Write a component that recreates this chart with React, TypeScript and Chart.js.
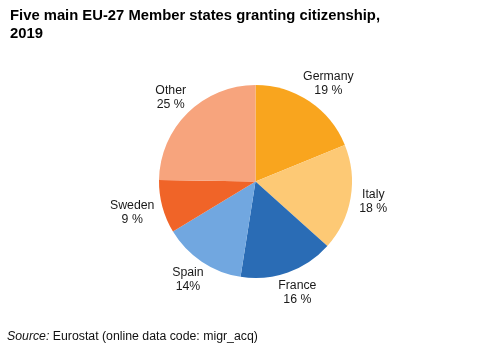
import React, { useEffect, useRef } from "react";
import { Chart, registerables } from "chart.js";

Chart.register(...registerables);

const categories = ["Germany", "Italy", "France", "Spain", "Sweden", "Other"];
const shares = [19, 18, 16, 14, 9, 25];
const shareLabels = ["19 %", "18 %", "16 %", "14%", "9 %", "25 %"];
const colors = ["#F9A51E", "#FDC975", "#2A6CB5", "#71A7E0", "#F06428", "#F7A47D"];
const titleLines = ["Five main EU-27 Member states granting citizenship,", "2019"];

const FONT = "'Liberation Sans', Arial, sans-serif";

const textPlugin = {
  id: "textPlugin",
  afterDraw(chart: any) {
    const ctx = chart.ctx as CanvasRenderingContext2D;
    ctx.save();
    // Title
    ctx.fillStyle = "#000";
    ctx.font = `bold 14.8px ${FONT}`;
    ctx.textAlign = "left";
    ctx.textBaseline = "alphabetic";
    ctx.fillText(titleLines[0], 10, 20);
    ctx.fillText(titleLines[1], 10, 37.5);

    // Source
    ctx.font = `italic 12.3px ${FONT}`;
    const src = "Source:";
    ctx.fillStyle = "#111";
    ctx.fillText(src, 7, 340);
    const w = ctx.measureText(src).width;
    ctx.font = `12.3px ${FONT}`;
    ctx.fillText(" Eurostat (online data code: migr_acq)", 7 + w, 340);

    // Slice labels
    const meta = chart.getDatasetMeta(0);
    ctx.font = `12.3px ${FONT}`;
    ctx.fillStyle = "#1a1a1a";
    ctx.textAlign = "center";
    ctx.textBaseline = "middle";
    const lineH = 14;
    meta.data.forEach((arc: any, i: number) => {
      const p = arc.getProps(["x", "y", "startAngle", "endAngle", "outerRadius"], true);
      const mid = (p.startAngle + p.endAngle) / 2;
      const dx = Math.cos(mid);
      const dy = Math.sin(mid);
      const ax = p.x + dx * (p.outerRadius + 9);
      const ay = p.y + dy * (p.outerRadius + 9);
      const l1 = categories[i];
      const l2 = shareLabels[i];
      const bw = Math.max(ctx.measureText(l1).width, ctx.measureText(l2).width);
      const bh = lineH + 11;
      const cx = ax + dx * bw / 2;
      const cy = ay + dy * bh / 2;
      ctx.fillText(l1, cx, cy - lineH / 2);
      ctx.fillText(l2, cx, cy + lineH / 2);
    });
    ctx.restore();
  },
};

export default function App() {
  const ref = useRef<HTMLCanvasElement>(null);
  useEffect(() => {
    if (!ref.current) return;
    const chart = new Chart(ref.current, {
      type: "pie",
      data: {
        labels: categories,
        datasets: [
          {
            data: shares,
            backgroundColor: colors,
            borderWidth: 0,
          },
        ],
      },
      options: {
        responsive: false,
        animation: false,
        layout: { padding: { left: 159, right: 148, top: 85, bottom: 76 } },
        plugins: {
          legend: { display: false },
          tooltip: { enabled: false },
          title: { display: false },
        },
      },
      plugins: [textPlugin],
    });
    return () => chart.destroy();
  }, []);
  return (
    <div style={{ position: "absolute", left: 0, top: 0, width: 500, height: 354, background: "#fff" }}>
      <canvas ref={ref} width={500} height={354} style={{ width: 500, height: 354, display: "block" }} />
    </div>
  );
}
